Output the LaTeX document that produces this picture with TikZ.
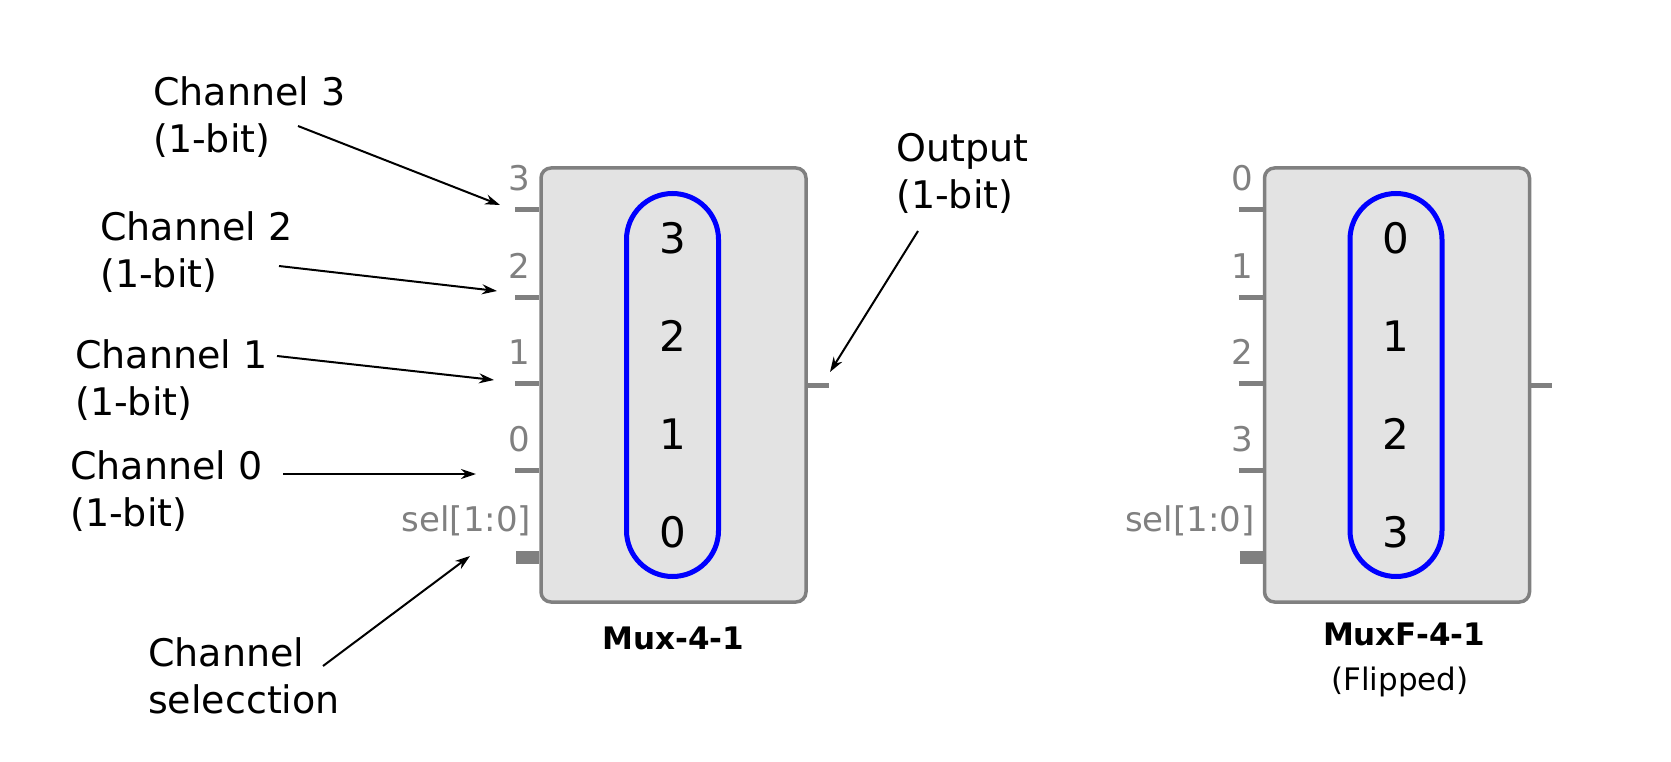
\documentclass[tikz,border=0pt]{standalone}
\usepackage{fontspec}
\setmainfont{DejaVu Sans}
\usetikzlibrary{arrows.meta,positioning}
\definecolor{PinGray}{HTML}{808080}
\definecolor{BoxFill}{HTML}{E3E3E3}
\definecolor{SelBlue}{HTML}{0000FF}

\begin{document}
\begin{tikzpicture}[x=1pt, y=-1pt,
    muxbox/.style={draw=PinGray, fill=BoxFill, line width=3.5pt, rounded corners=10pt, minimum width=265pt, minimum height=434pt, inner sep=0pt},
    selpill/.style={draw=SelBlue, line width=5pt, rounded corners=46pt, minimum width=92pt, minimum height=383pt, inner sep=0pt},
    pillnum/.style={font=\fontsize{42}{50}\selectfont, inner sep=0pt},
    pinline/.style={draw=PinGray, line width=5pt},
    selpin/.style={draw=PinGray, line width=13pt},
    pinlabel/.style={text=PinGray, font=\fontsize{34}{40}\selectfont, inner sep=0pt, anchor=base east},
    note/.style={font=\fontsize{38}{47}\selectfont, align=left, inner sep=0pt, anchor=north west},
    muxname/.style={font=\bfseries\fontsize{31}{36}\selectfont, inner sep=0pt, anchor=base},
    pointer/.style={-{Stealth[length=15pt, width=10pt]}, line width=2pt}]
    \useasboundingbox (0,0) rectangle (1671,762);

    \node[muxbox] (mux) at (673.5,385) {};
    \node[selpill] (muxsel) at (672.5,385) {};
    \foreach \dy/\lab in {-147/3,-49/2,49/1,147/0}
        \node[pillnum] (muxnum\lab) at ([shift={(0,\dy)}]muxsel.center) {\lab};
    \foreach \dy/\lab in {43/3,131/2,217/1,304/0} {
        \draw[pinline] ([shift={(-24,\dy)}]mux.north west) -- ([shift={(0,\dy)}]mux.north west);
        \node[pinlabel] (muxpin\lab) at ([shift={(-9,\dy-19)}]mux.north west) {\lab};
    }
    \draw[selpin] ([shift={(-23,391)}]mux.north west) -- ([shift={(0,391)}]mux.north west);
    \node[pinlabel] (muxsellab) at ([shift={(-8,365)}]mux.north west) {sel[1:0]};
    \draw[pinline] (mux.east) -- ([xshift=21pt]mux.east);
    \node[muxname] (muxname) at ([shift={(0,46)}]mux.south) {Mux-4-1};

    \node[muxbox] (muxf) at (1397,385) {};
    \node[selpill] (muxfsel) at (1396,385) {};
    \foreach \dy/\lab in {-147/0,-49/1,49/2,147/3}
        \node[pillnum] (muxfnum\lab) at ([shift={(0,\dy)}]muxfsel.center) {\lab};
    \foreach \dy/\lab in {43/0,131/1,217/2,304/3} {
        \draw[pinline] ([shift={(-24,\dy)}]muxf.north west) -- ([shift={(0,\dy)}]muxf.north west);
        \node[pinlabel] (muxfpin\lab) at ([shift={(-9,\dy-19)}]muxf.north west) {\lab};
    }
    \draw[selpin] ([shift={(-23,391)}]muxf.north west) -- ([shift={(0,391)}]muxf.north west);
    \node[pinlabel] (muxfsellab) at ([shift={(-8,365)}]muxf.north west) {sel[1:0]};
    \draw[pinline] (muxf.east) -- ([xshift=21pt]muxf.east);
    \node[muxname] (muxfname) at ([shift={(7,42)}]muxf.south) {MuxF-4-1};
    \node[font=\fontsize{31}{36}\selectfont, inner sep=0pt, anchor=base] (muxfnote) at ([shift={(3,87)}]muxf.south) {(Flipped)};

    \node[note] (ch3) at (153,76) {Channel 3\\(1-bit)};
    \node[note] (ch2) at (100,211) {Channel 2\\(1-bit)};
    \node[note] (ch1) at (75,339) {Channel 1\\(1-bit)};
    \node[note] (ch0) at (70,450) {Channel 0\\(1-bit)};
    \node[note] (chsel) at (148,637) {Channel\\selecction};
    \node[note] (outnote) at (896,133) {Output\\(1-bit)};

    \coordinate (in3) at (500,205);
    \coordinate (in2) at (497,291);
    \coordinate (in1) at (494,380);
    \coordinate (in0) at (476,474);
    \coordinate (insel) at (470,556);
    \coordinate (outpin) at (830,372);

    \draw[pointer] ([shift={(145,50)}]ch3.north west) -- (in3);
    \draw[pointer] ([shift={(179,55)}]ch2.north west) -- (in2);
    \draw[pointer] ([shift={(202,17)}]ch1.north west) -- (in1);
    \draw[pointer] ([shift={(213,24)}]ch0.north west) -- (in0);
    \draw[pointer] ([shift={(175,29)}]chsel.north west) -- (insel);
    \draw[pointer] ([shift={(22,98)}]outnote.north west) -- (outpin);
\end{tikzpicture}
\end{document}
